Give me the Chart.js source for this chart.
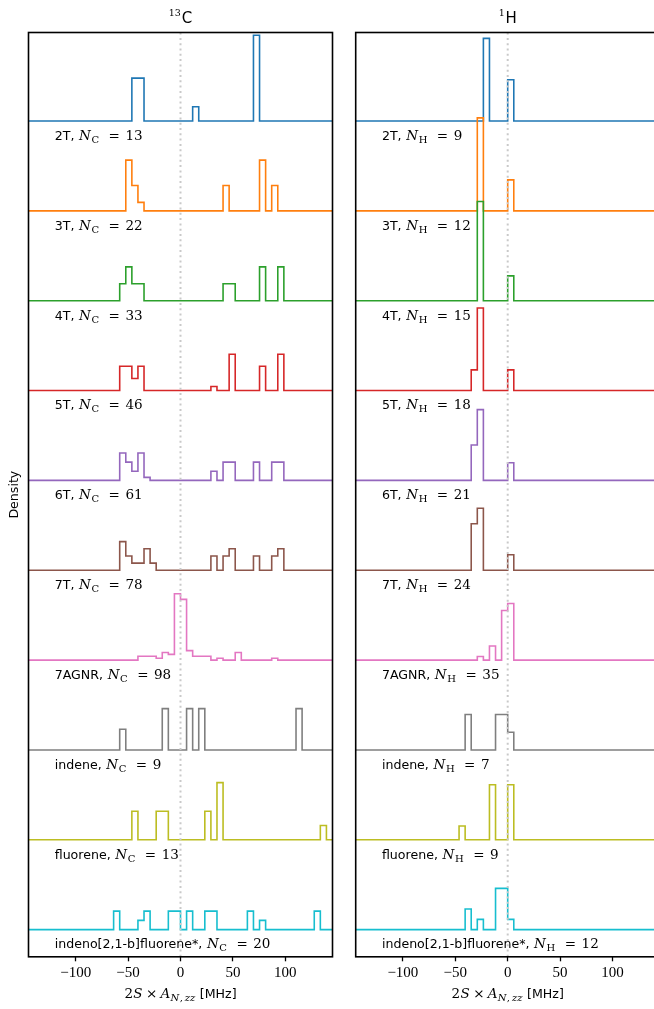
<!DOCTYPE html>
<html>
<head>
<meta charset="utf-8">
<script src="https://cdn.jsdelivr.net/npm/chart.js@4.4.1/dist/chart.umd.min.js"></script>
<style>
  html, body { margin: 0; padding: 0; width: 654px; height: 1009px; overflow: hidden; background: #fff; }
  canvas { position: absolute; top: 0; }
  #chartC { left: 0; }
  #chartH { left: 340px; }
</style>
</head>
<body>
<canvas id="chartC" width="340" height="1009"></canvas>
<canvas id="chartH" width="330" height="1009"></canvas>
<script>
// Molecules, top row first
const molecules = ['2T', '3T', '4T', '5T', '6T', '7T', '7AGNR', 'indene', 'fluorene', 'indeno[2,1-b]fluorene*'];
const nCarbon   = [13, 22, 33, 46, 61, 78, 98, 9, 13, 20];
const nHydrogen = [9, 12, 15, 18, 21, 24, 35, 7, 9, 12];

// Histogram binning of 2S x A_zz (MHz)
const binRange = [-145, 145];
const binWidth = 5.8;
const tickValues = [-100, -50, 0, 50, 100];

// Occupied bins per molecule: [bin left edge (MHz), number of atoms]
const carbonHist = [
  [[-46.4, 3], [-40.6, 3], [11.6, 1], [69.6, 6]],
  [[-52.2, 6], [-46.4, 3], [-40.6, 1], [40.6, 3], [75.4, 6], [87.0, 3]],
  [[-58.0, 3], [-52.2, 6], [-46.4, 3], [-40.6, 3], [40.6, 3], [46.4, 3], [75.4, 6], [92.8, 6]],
  [[-58.0, 6], [-52.2, 6], [-46.4, 3], [-40.6, 6], [29.0, 1], [46.4, 9], [75.4, 6], [92.8, 9]],
  [[-58.0, 9], [-52.2, 6], [-46.4, 3], [-40.6, 9], [-34.8, 1], [29.0, 3], [40.6, 6], [46.4, 6], [69.6, 6], [87.0, 6], [92.8, 6]],
  [[-58.0, 12], [-52.2, 6], [-46.4, 3], [-40.6, 3], [-34.8, 9], [-29.0, 3], [29.0, 6], [40.6, 6], [46.4, 9], [69.6, 6], [87.0, 6], [92.8, 9]],
  [[-40.6, 2], [-34.8, 2], [-29.0, 2], [-23.2, 1], [-17.4, 4], [-11.6, 3], [-5.8, 35], [0, 32], [5.8, 5], [11.6, 2], [17.4, 2], [23.2, 2], [34.8, 1], [52.2, 4], [87.0, 1]],
  [[-58.0, 1], [-17.4, 2], [5.8, 2], [17.4, 2], [110.2, 2]],
  [[-46.4, 2], [-23.2, 2], [-17.4, 2], [23.2, 2], [34.8, 4], [133.4, 1]],
  [[-63.8, 2], [-40.6, 1], [-34.8, 2], [-11.6, 2], [-5.8, 2], [5.8, 2], [23.2, 2], [29.0, 2], [63.8, 2], [75.4, 1], [127.6, 2]]
];

const hydrogenHist = [
  [[-23.2, 6], [0, 3]],
  [[-29.0, 9], [0, 3]],
  [[-29.0, 12], [0, 3]],
  [[-34.8, 3], [-29.0, 12], [0, 3]],
  [[-34.8, 6], [-29.0, 12], [0, 3]],
  [[-34.8, 9], [-29.0, 12], [0, 3]],
  [[-29.0, 1], [-17.4, 4], [-5.8, 14], [0, 16]],
  [[-40.6, 2], [-11.6, 2], [-5.8, 2], [0, 1]],
  [[-46.4, 1], [-17.4, 4], [0, 4]],
  [[-40.6, 2], [-29.0, 1], [-11.6, 4], [-5.8, 4], [0, 1]]
];

const colors = ['#1f77b4', '#ff7f0e', '#2ca02c', '#d62728', '#9467bd',
                '#8c564b', '#e377c2', '#7f7f7f', '#bcbd22', '#17becf'];

const SANS = '"DejaVu Sans", sans-serif';
const SERIF = '"DejaVu Serif", serif';
const nBins = Math.round((binRange[1] - binRange[0]) / binWidth);

// Draws a run of differently styled text pieces one after another
function drawRich(ctx, x, y, segs, align) {
  let total = 0;
  segs.forEach(s => {
    ctx.font = s.font;
    s.w = ctx.measureText(s.text).width;
    total += (s.gap || 0) + s.w;
  });
  let cx = align === 'center' ? x - total / 2 : x;
  ctx.textAlign = 'left';
  ctx.textBaseline = 'alphabetic';
  segs.forEach(s => {
    cx += s.gap || 0;
    ctx.font = s.font;
    ctx.fillText(s.text, cx, y + (s.dy || 0));
    cx += s.w;
  });
}

function stepSeries(bins, nAtoms, offset) {
  const dense = new Array(nBins).fill(0);
  bins.forEach(([edge, count]) => {
    dense[Math.round((edge - binRange[0]) / binWidth)] = count;
  });
  const pts = [];
  for (let k = 0; k < nBins; k++) {
    pts.push({ x: binRange[0] + k * binWidth, y: offset + dense[k] / (nAtoms * binWidth) });
  }
  pts.push({ x: binRange[1], y: offset });
  return pts;
}

function makePanel(canvasId, hist, nAtoms, nucleus, massNumber, rowStep, padding, withYLabel) {
  const yMin = -0.302 * rowStep;
  const yMax = 9.985 * rowStep;

  const datasets = hist.map((bins, i) => ({
    data: stepSeries(bins, nAtoms[i], (hist.length - 1 - i) * rowStep),
    borderColor: colors[i],
    borderWidth: 1.6,
    stepped: 'before',
    showLine: true,
    pointRadius: 0,
    fill: false,
    order: 10 - i
  }));
  // zero-coupling reference line
  datasets.push({
    data: [{ x: 0, y: yMin }, { x: 0, y: yMax }],
    borderColor: '#c9c9c9',
    borderWidth: 2,
    borderDash: [2, 3.3],
    showLine: true,
    pointRadius: 0,
    fill: false,
    order: -1
  });

  const decorations = {
    id: 'decorations',
    afterDatasetsDraw(chart) {
      const ctx = chart.ctx;
      const area = chart.chartArea;
      const xs = chart.scales.x, ys = chart.scales.y;
      ctx.save();
      // row labels
      ctx.fillStyle = '#000';
      hist.forEach((_, i) => {
        const py = ys.getPixelForValue((hist.length - 1 - i) * rowStep) + 18.8;
        const px = xs.getPixelForValue(-120);
        drawRich(ctx, px, py, [
          { text: molecules[i] + ',', font: '12.6px ' + SANS },
          { text: 'N', font: 'italic 13.5px ' + SERIF, gap: 4.6 },
          { text: nucleus, font: '10px ' + SERIF, gap: 0.6, dy: 3 },
          { text: '=', font: '13.5px ' + SERIF, gap: 9.5 },
          { text: String(nAtoms[i]), font: '13.5px ' + SERIF, gap: 5.5 }
        ], 'left');
      });
      // frame
      ctx.strokeStyle = '#000';
      ctx.lineWidth = 1.6;
      ctx.strokeRect(area.left, area.top, area.right - area.left, area.bottom - area.top);
      ctx.restore();
    },
    afterDraw(chart) {
      const ctx = chart.ctx;
      const area = chart.chartArea;
      const cx = (area.left + area.right) / 2;
      ctx.save();
      ctx.fillStyle = '#000';
      // panel title
      drawRich(ctx, cx, 22.7, [
        { text: massNumber, font: '9.5px ' + SERIF, dy: -6.7 },
        { text: nucleus, font: '15px ' + SANS, gap: 0.8 }
      ], 'center');
      // x-axis title
      drawRich(ctx, cx, 998.3, [
        { text: '2', font: '13.5px ' + SERIF },
        { text: 'S', font: 'italic 13.5px ' + SERIF, gap: 0.3 },
        { text: '\u00d7', font: '13.5px ' + SERIF, gap: 3.5 },
        { text: 'A', font: 'italic 13.5px ' + SERIF, gap: 3.2 },
        { text: 'N', font: 'italic 10px ' + SERIF, gap: 0.3, dy: 3 },
        { text: ',', font: '10px ' + SERIF, gap: 0.3, dy: 3 },
        { text: 'zz', font: 'italic 10px ' + SERIF, gap: 2, dy: 3 },
        { text: '[MHz]', font: '12.6px ' + SANS, gap: 4.5 }
      ], 'center');
      if (withYLabel) {
        ctx.translate(17.5, (area.top + area.bottom) / 2);
        ctx.rotate(-Math.PI / 2);
        ctx.font = '12.6px ' + SANS;
        ctx.textAlign = 'center';
        ctx.textBaseline = 'alphabetic';
        ctx.fillText('Density', 0, 0);
      }
      ctx.restore();
    }
  };

  return new Chart(document.getElementById(canvasId), {
    type: 'scatter',
    data: { datasets },
    options: {
      responsive: false,
      animation: false,
      devicePixelRatio: 1,
      layout: { padding },
      plugins: { legend: { display: false }, tooltip: { enabled: false } },
      elements: { line: { tension: 0, borderJoinStyle: 'miter' } },
      scales: {
        x: {
          type: 'linear',
          min: binRange[0],
          max: binRange[1],
          afterBuildTicks: s => { s.ticks = tickValues.map(v => ({ value: v })); },
          afterFit: s => { s.height = 52.2; },
          border: { display: false },
          grid: { drawOnChartArea: false, drawTicks: true, tickLength: 4.5, tickWidth: 1.3, tickColor: '#000' },
          ticks: {
            color: '#000',
            padding: 2.7,
            maxRotation: 0,
            font: { family: '"Liberation Serif", serif', size: 15 },
            callback: v => (v < 0 ? '\u2212' + Math.abs(v) : String(v))
          }
        },
        y: { display: false, min: yMin, max: yMax }
      }
    },
    plugins: [decorations]
  });
}

makePanel('chartC', carbonHist, nCarbon, 'C', '13', 1 / 12,
          { left: 28.5, right: 7.5, top: 32.5, bottom: 0 }, true);
makePanel('chartH', hydrogenHist, nHydrogen, 'H', '1', 1 / 8,
          { left: 15.7, right: 10.3, top: 32.5, bottom: 0 }, false);
</script>
</body>
</html>
